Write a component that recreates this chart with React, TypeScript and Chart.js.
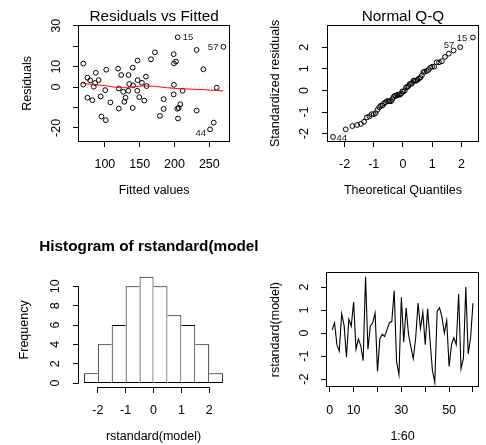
import React, { useEffect, useRef } from "react";
import { Chart, registerables } from "chart.js";

Chart.register(...registerables);

const CANVAS_W = 486;
const CANVAS_H = 445;

// ---------------- data ----------------
// standardized residuals, observation order 1..60
const rstandardValues = [
  0.14, 0.45, -0.5, -0.78, 0.85, 0.35, -1.05, 0.6, 0.3, 1.35,
  -0.7, -0.25, -0.55, -1.2, 2.45, -0.7, 0.3, 0.45, 0.87, -1.65,
  -0.25, -0.05, -0.15, 0.15, 0.45, 0.5, 1.85, -1.25, -1.8, 1.55,
  -0.4, 1.1, -0.05, -0.6, -1.1, -0.2, 1.3, 0.2, 0.9, -0.5,
  1.05, -0.3, -1.6, -2.15, 0.95, 1.1, 0.7, 0.0, 0.55, -1.45,
  -0.5, -0.2, -0.5, 1.7, -1.55, -1.1, 2.0, -0.9, -0.2, 1.3,
];

// fitted values and raw residuals, observation order 1..60
const fittedValues = [
  140.5, 91, 149.4, 208.3, 87, 153.2, 206, 134, 86, 166.2,
  128, 211.7, 82, 184.4, 204.5, 108, 135, 147, 102, 101.4,
  126.4, 84, 120, 199.2, 79, 75, 231.8, 231.8, 256.3, 198.8,
  94, 199.2, 260.6, 156.6, 120, 100.5, 147, 69, 241.4, 75,
  140, 198.8, 205, 251, 119, 69, 123.5, 160, 159, 179.1,
  129.7, 133.6, 184.4, 171.9, 95, 204, 270.2, 140, 146.5, 202.2,
];
const residualValues = [
  0.8, 3.4, -4.9, -8.4, 7.0, 2.1, -10.2, 5.9, 2.0, 13.6,
  -7.2, -1.8, -6.4, -10.7, 24.4, -7.5, 1.5, 3.4, 8.5, -16.2,
  -2.3, 0.2, -0.7, 1.1, 3.3, 4.6, 18.2, -11.5, -17.4, 16.1,
  -4.6, 11.6, -0.3, -6.6, -10.5, -1.5, 13.0, 1.2, 8.7, -5.2,
  9.5, -3.6, -15.4, -20.7, 9.0, 11.5, 5.9, 0.5, 5.1, -14.1,
  -5.2, -1.8, -5.9, 17.0, -14.4, -10.6, 19.7, -10.2, -1.8, 12.5,
];

// red smoother in Residuals vs Fitted
const smoothFitted = [69, 85, 100, 117, 131, 141, 155, 170, 189, 208, 237, 270];
const smoothResidual = [1.8, 1.2, 0.7, -0.2, -0.3, 0.1, 0.6, 0.4, -0.3, -0.8, -1.2, -1.9];

// theoretical normal quantiles for n = 60
const theoreticalQuantiles = [
  -2.394, -1.96, -1.732, -1.569, -1.44, -1.33, -1.235, -1.15, -1.073, -1.001,
  -0.935, -0.872, -0.812, -0.755, -0.701, -0.649, -0.598, -0.549, -0.501, -0.454,
  -0.408, -0.363, -0.319, -0.275, -0.232, -0.189, -0.147, -0.105, -0.063, -0.021,
  0.021, 0.063, 0.105, 0.147, 0.189, 0.232, 0.275, 0.319, 0.363, 0.408,
  0.454, 0.501, 0.549, 0.598, 0.649, 0.701, 0.755, 0.812, 0.872, 0.935,
  1.001, 1.073, 1.15, 1.235, 1.33, 1.44, 1.569, 1.732, 1.96, 2.394,
];
const qqLineIntercept = 0.04;
const qqLineSlope = 1.0;

// histogram
const histBreaks = [-2.5, -2, -1.5, -1, -0.5, 0, 0.5, 1, 1.5, 2, 2.5];
const histCounts = [1, 4, 6, 10, 11, 10, 7, 6, 4, 1];

// labelled observations
const labelledObs = [15, 57, 44];

// axis limits
const rvfXLim = [62.6, 278.8];
const rvfYLim = [-26.5, 30.1];
const qqXLim = [-2.59, 2.59];
const qqYLim = [-2.35, 3.0];
const histXLim = [-2.7, 2.7];
const histYLim = [-0.44, 11.44];
const seqXLim = [-1.36, 62.36];
const seqYLim = [-2.334, 2.634];

// ticks
const rvfXTicks = [100, 150, 200, 250];
const rvfXTickLabels = ["100", "150", "200", "250"];
const rvfYTicks = [-20, -10, 0, 10, 20, 30];
const rvfYTickLabels = ["-20", "", "0", "10", "", "30"];
const qqXTicks = [-2, -1, 0, 1, 2];
const qqXTickLabels = ["-2", "-1", "0", "1", "2"];
const qqYTicks = [-2, -1, 0, 1, 2];
const qqYTickLabels = ["-2", "-1", "0", "1", "2"];
const histXTicks = [-2, -1, 0, 1, 2];
const histXTickLabels = ["-2", "-1", "0", "1", "2"];
const histYTicks = [0, 2, 4, 6, 8, 10];
const histYTickLabels = ["0", "2", "4", "6", "8", "10"];
const seqXTicks = [0, 10, 20, 30, 40, 50, 60];
const seqXTickLabels = ["0", "10", "", "30", "", "50", ""];
const seqYTicks = [-2, -1, 0, 1, 2];
const seqYTickLabels = ["-2", "-1", "0", "1", "2"];

// ---------------- drawing helpers ----------------
const FONT_FAMILY = '"Liberation Sans", Arial, Helvetica, sans-serif';
const TICK_LEN = 5.5;
const crisp = (v: number) => Math.floor(v) + 0.5;

type Area = { left: number; top: number; right: number; bottom: number };
type PointLabel = { text: string; x: number; y: number; align: CanvasTextAlign; dx: number; dy: number };
type PanelSpec = {
  area: Area;
  box: boolean;
  xTicks: number[];
  xTickLabels: string[];
  yTicks: number[];
  yTickLabels: string[];
  title?: string;
  titleBold?: boolean;
  titleDy?: number;
  titleLeft?: number;
  titleClipRight?: number;
  xTitle: string;
  yTitle: string;
  yTitleOffset: number;
  pointLabels?: PointLabel[];
};

function rFramePlugin(spec: PanelSpec) {
  return {
    id: "rFrame",
    afterDatasetsDraw(chart: any) {
      const ctx: CanvasRenderingContext2D = chart.ctx;
      const ca = chart.chartArea;
      const xs = chart.scales.x;
      const ys = chart.scales.y;
      ctx.save();
      ctx.strokeStyle = "#000";
      ctx.fillStyle = "#000";
      ctx.lineWidth = 1;
      ctx.setLineDash([]);
      const L = crisp(ca.left);
      const R = crisp(ca.right);
      const T = crisp(ca.top);
      const B = crisp(ca.bottom);
      if (spec.box) ctx.strokeRect(L, T, R - L, B - T);

      const xPix = spec.xTicks.map((v) => crisp(xs.getPixelForValue(v)));
      const yPix = spec.yTicks.map((v) => crisp(ys.getPixelForValue(v)));
      ctx.beginPath();
      ctx.moveTo(xPix[0], B);
      ctx.lineTo(xPix[xPix.length - 1], B);
      xPix.forEach((p) => {
        ctx.moveTo(p, B);
        ctx.lineTo(p, B + TICK_LEN);
      });
      ctx.moveTo(L, yPix[0]);
      ctx.lineTo(L, yPix[yPix.length - 1]);
      yPix.forEach((p) => {
        ctx.moveTo(L, p);
        ctx.lineTo(L - TICK_LEN, p);
      });
      ctx.stroke();

      ctx.font = `12.5px ${FONT_FAMILY}`;
      ctx.textAlign = "center";
      ctx.textBaseline = "alphabetic";
      spec.xTickLabels.forEach((t, i) => {
        if (t) ctx.fillText(t, xs.getPixelForValue(spec.xTicks[i]), ca.bottom + 27);
      });
      spec.yTickLabels.forEach((t, i) => {
        if (!t) return;
        ctx.save();
        ctx.translate(ca.left - 19, ys.getPixelForValue(spec.yTicks[i]));
        ctx.rotate(-Math.PI / 2);
        ctx.fillText(t, 0, 0);
        ctx.restore();
      });
      ctx.fillText(spec.xTitle, (ca.left + ca.right) / 2, ca.bottom + 52.7);
      ctx.save();
      ctx.translate(ca.left - spec.yTitleOffset, (ca.top + ca.bottom) / 2);
      ctx.rotate(-Math.PI / 2);
      ctx.fillText(spec.yTitle, 0, 0);
      ctx.restore();

      if (spec.title) {
        ctx.save();
        ctx.font = `${spec.titleBold ? "bold " : ""}15.3px ${FONT_FAMILY}`;
        if (spec.titleClipRight !== undefined) {
          ctx.beginPath();
          ctx.rect(0, 0, spec.titleClipRight, chart.height);
          ctx.clip();
        }
        const ty = ca.top - (spec.titleDy ?? 4.9);
        if (spec.titleLeft !== undefined) {
          ctx.textAlign = "left";
          ctx.fillText(spec.title, spec.titleLeft, ty);
        } else {
          ctx.textAlign = "center";
          ctx.fillText(spec.title, (ca.left + ca.right) / 2, ty);
        }
        ctx.restore();
      }

      if (spec.pointLabels) {
        ctx.font = `9.5px ${FONT_FAMILY}`;
        ctx.textBaseline = "middle";
        ctx.fillStyle = "#222";
        spec.pointLabels.forEach((lb) => {
          ctx.textAlign = lb.align;
          ctx.fillText(lb.text, xs.getPixelForValue(lb.x) + lb.dx, ys.getPixelForValue(lb.y) + lb.dy);
        });
      }
      ctx.restore();
    },
  };
}

function makeChart(
  canvas: HTMLCanvasElement,
  type: any,
  datasets: any[],
  spec: PanelSpec,
  xLim: number[],
  yLim: number[],
  extraX: any = {}
) {
  return new Chart(canvas, {
    type,
    data: { datasets },
    options: {
      responsive: false,
      maintainAspectRatio: false,
      animation: false,
      devicePixelRatio: 1,
      events: [],
      layout: {
        padding: {
          left: spec.area.left,
          top: spec.area.top,
          right: CANVAS_W - spec.area.right,
          bottom: CANVAS_H - spec.area.bottom,
        },
      },
      plugins: { legend: { display: false }, tooltip: { enabled: false }, title: { display: false } },
      scales: {
        x: { type: "linear", display: false, min: xLim[0], max: xLim[1], offset: false, ...extraX },
        y: { type: "linear", display: false, min: yLim[0], max: yLim[1] },
      },
    } as any,
    plugins: [rFramePlugin(spec)],
  });
}

const pointStyleOpts = {
  pointRadius: 2.4,
  pointBorderWidth: 1,
  pointBorderColor: "#000",
  pointBackgroundColor: "rgba(0,0,0,0)",
  borderColor: "#000",
  backgroundColor: "rgba(0,0,0,0)",
  pointStyle: "circle",
  showLine: false,
};

export default function App() {
  const ref1 = useRef<HTMLCanvasElement>(null);
  const ref2 = useRef<HTMLCanvasElement>(null);
  const ref3 = useRef<HTMLCanvasElement>(null);
  const ref4 = useRef<HTMLCanvasElement>(null);

  useEffect(() => {
    const charts: Chart[] = [];

    // ---- Residuals vs Fitted ----
    const rvfLabelStyle: Record<number, { align: CanvasTextAlign; dx: number; dy: number }> = {
      15: { align: "left", dx: 5, dy: 0.5 },
      57: { align: "right", dx: -5, dy: 1 },
      44: { align: "right", dx: -4, dy: 4 },
    };
    const rvfSpec: PanelSpec = {
      area: { left: 78.8, top: 25.6, right: 229.4, bottom: 141.2 },
      box: true,
      xTicks: rvfXTicks,
      xTickLabels: rvfXTickLabels,
      yTicks: rvfYTicks,
      yTickLabels: rvfYTickLabels,
      title: "Residuals vs Fitted",
      titleDy: 4.9,
      xTitle: "Fitted values",
      yTitle: "Residuals",
      yTitleOffset: 47.5,
      pointLabels: labelledObs.map((o) => ({
        text: String(o),
        x: fittedValues[o - 1],
        y: residualValues[o - 1],
        ...rvfLabelStyle[o],
      })),
    };
    charts.push(
      makeChart(
        ref1.current!,
        "scatter",
        [
          {
            data: [
              { x: rvfXLim[0], y: 0 },
              { x: rvfXLim[1], y: 0 },
            ],
            showLine: true,
            borderColor: "#bebebe",
            borderWidth: 1,
            borderDash: [1, 3],
            pointRadius: 0,
          },
          {
            data: smoothFitted.map((x, i) => ({ x, y: smoothResidual[i] })),
            showLine: true,
            borderColor: "#ff0000",
            borderWidth: 1,
            pointRadius: 0,
            tension: 0,
          },
          {
            data: fittedValues.map((x, i) => ({ x, y: residualValues[i] })),
            ...pointStyleOpts,
          },
        ],
        rvfSpec,
        rvfXLim,
        rvfYLim
      )
    );

    // ---- Normal Q-Q ----
    const order = rstandardValues.map((_, i) => i).sort((a, b) => rstandardValues[a] - rstandardValues[b]);
    const rankOf: number[] = [];
    order.forEach((obsIdx, rank) => (rankOf[obsIdx] = rank));
    const qqLabelStyle: Record<number, { align: CanvasTextAlign; dx: number; dy: number }> = {
      15: { align: "right", dx: -5.5, dy: 1 },
      57: { align: "right", dx: -6, dy: -1.5 },
      44: { align: "left", dx: 3.5, dy: 1.5 },
    };
    const qqSpec: PanelSpec = {
      area: { left: 327.3, top: 25.6, right: 478.6, bottom: 141.2 },
      box: true,
      xTicks: qqXTicks,
      xTickLabels: qqXTickLabels,
      yTicks: qqYTicks,
      yTickLabels: qqYTickLabels,
      title: "Normal Q-Q",
      titleDy: 4.9,
      xTitle: "Theoretical Quantiles",
      yTitle: "Standardized residuals",
      yTitleOffset: 48.5,
      pointLabels: labelledObs.map((o) => ({
        text: String(o),
        x: theoreticalQuantiles[rankOf[o - 1]],
        y: rstandardValues[o - 1],
        ...qqLabelStyle[o],
      })),
    };
    charts.push(
      makeChart(
        ref2.current!,
        "scatter",
        [
          {
            data: [
              { x: qqXLim[0], y: qqLineIntercept + qqLineSlope * qqXLim[0] },
              { x: qqXLim[1], y: qqLineIntercept + qqLineSlope * qqXLim[1] },
            ],
            showLine: true,
            borderColor: "#7f7f7f",
            borderWidth: 1,
            borderDash: [1, 3],
            pointRadius: 0,
          },
          {
            data: order.map((obsIdx, rank) => ({ x: theoreticalQuantiles[rank], y: rstandardValues[obsIdx] })),
            ...pointStyleOpts,
          },
        ],
        qqSpec,
        qqXLim,
        qqYLim
      )
    );

    // ---- Histogram ----
    const histCenters = histCounts.map((_, i) => (histBreaks[i] + histBreaks[i + 1]) / 2);
    const n = histCounts.length;
    const histSpec: PanelSpec = {
      area: { left: 78.3, top: 272.4, right: 228.7, bottom: 387.3 },
      box: false,
      xTicks: histXTicks,
      xTickLabels: histXTickLabels,
      yTicks: histYTicks,
      yTickLabels: histYTickLabels,
      title: "Histogram of rstandard(model)",
      titleBold: true,
      titleDy: 21.7,
      titleLeft: 39.3,
      titleClipRight: 259,
      xTitle: "rstandard(model)",
      yTitle: "Frequency",
      yTitleOffset: 50,
    };
    charts.push(
      makeChart(
        ref3.current!,
        "bar",
        [
          {
            data: histCenters.map((x, i) => ({ x, y: histCounts[i] })),
            backgroundColor: "#fff",
            borderColor: "#000",
            borderSkipped: false,
            inflateAmount: 0,
            barPercentage: 1,
            categoryPercentage: 1,
            borderWidth: (c: any) => {
              const i = c.dataIndex;
              return {
                top: 1,
                bottom: 1,
                left: i === 0 || histCounts[i] >= histCounts[i - 1] ? 1 : 0,
                right: i === n - 1 || histCounts[i] > histCounts[i + 1] ? 1 : 0,
              };
            },
          },
        ],
        histSpec,
        histXLim,
        histYLim,
        {
          afterBuildTicks: (s: any) => {
            s.ticks = histBreaks.map((v) => ({ value: v }));
          },
        }
      )
    );

    // ---- Sequence plot ----
    const seqSpec: PanelSpec = {
      area: { left: 326.5, top: 272.4, right: 478.6, bottom: 386.9 },
      box: true,
      xTicks: seqXTicks,
      xTickLabels: seqXTickLabels,
      yTicks: seqYTicks,
      yTickLabels: seqYTickLabels,
      xTitle: "1:60",
      yTitle: "rstandard(model)",
      yTitleOffset: 47.5,
    };
    charts.push(
      makeChart(
        ref4.current!,
        "line",
        [
          {
            data: rstandardValues.map((y, i) => ({ x: i + 1, y })),
            borderColor: "#000",
            borderWidth: 1.1,
            pointRadius: 0,
            tension: 0,
            fill: false,
          },
        ],
        seqSpec,
        seqXLim,
        seqYLim
      )
    );

    return () => charts.forEach((c) => c.destroy());
  }, []);

  const canvasStyle: React.CSSProperties = { position: "absolute", left: 0, top: 0 };
  return (
    <div
      style={{
        position: "fixed",
        left: 0,
        top: 0,
        width: CANVAS_W,
        height: CANVAS_H,
        background: "#fff",
        overflow: "hidden",
      }}
    >
      <canvas ref={ref1} width={CANVAS_W} height={CANVAS_H} style={canvasStyle} />
      <canvas ref={ref2} width={CANVAS_W} height={CANVAS_H} style={canvasStyle} />
      <canvas ref={ref3} width={CANVAS_W} height={CANVAS_H} style={canvasStyle} />
      <canvas ref={ref4} width={CANVAS_W} height={CANVAS_H} style={canvasStyle} />
    </div>
  );
}
